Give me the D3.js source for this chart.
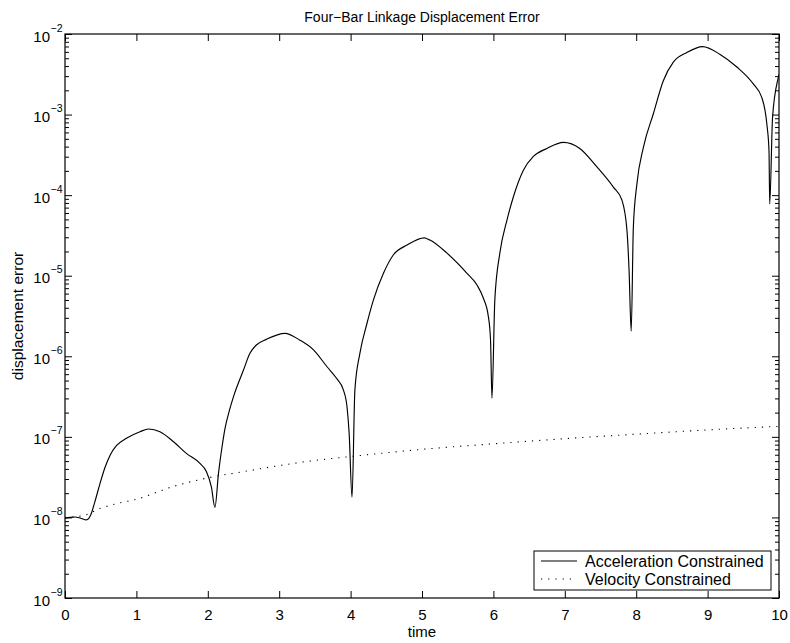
<!DOCTYPE html>
<html>
<head>
<meta charset="utf-8">
<script src="https://cdn.jsdelivr.net/npm/d3@7"></script>
<style>
  html, body { margin: 0; padding: 0; background: #fff; }
  svg { display: block; font-family: "Liberation Sans", Arial, Helvetica, sans-serif; }
</style>
</head>
<body>
<svg id="chart" width="790" height="643"></svg>
<script>
// ---- Data ----
const chartTitle = "Four\u2212Bar Linkage Displacement Error";
const xLabel = "time";
const yLabel = "displacement error";
const xTicks = [0, 1, 2, 3, 4, 5, 6, 7, 8, 9, 10];
const yTickExponents = [-9, -8, -7, -6, -5, -4, -3, -2];
const seriesNames = ["Acceleration Constrained", "Velocity Constrained"];

// Acceleration constrained: time and log10(error)
const accelTime = [
  0, 0.07, 0.14, 0.22, 0.30, 0.36, 0.42, 0.49, 0.56, 0.63, 0.72, 0.86, 1.05, 1.17, 1.33, 1.52, 1.70, 1.89, 1.98, 2.05, 2.10,
  2.15, 2.20, 2.24, 2.30, 2.36, 2.50, 2.59, 2.68, 2.82, 3.08, 3.29, 3.48, 3.67, 3.80, 3.90, 3.95, 3.98, 4.02,
  4.06, 4.13, 4.23, 4.32, 4.46, 4.60, 4.79, 5.03, 5.11, 5.35, 5.63, 5.77, 5.86, 5.93, 5.96, 5.98,
  6.02, 6.09, 6.19, 6.28, 6.42, 6.56, 6.75, 6.98, 7.21, 7.45, 7.68, 7.80, 7.87, 7.90, 7.93,
  7.96, 8.01, 8.10, 8.24, 8.38, 8.52, 8.71, 8.93, 9.17, 9.41, 9.64, 9.76, 9.83, 9.86, 9.87,
  9.91, 9.99, 10.0
];
const accelLog = [
  -8.01, -8.00, -7.995, -8.01, -8.03, -7.97, -7.80, -7.58, -7.38, -7.23, -7.11, -7.018, -6.936, -6.903, -6.936, -7.06, -7.205, -7.33, -7.43, -7.62, -7.875,
  -7.45, -7.12, -6.90, -6.68, -6.50, -6.17, -5.963, -5.86, -5.79, -5.715, -5.80, -5.92, -6.13, -6.27, -6.42, -6.63, -6.96, -7.75,
  -6.42, -5.963, -5.59, -5.30, -4.97, -4.74, -4.62, -4.53, -4.557, -4.72, -4.97, -5.115, -5.28, -5.51, -5.80, -6.52,
  -5.30, -4.72, -4.31, -4.02, -3.69, -3.52, -3.42, -3.345, -3.42, -3.65, -3.90, -4.06, -4.43, -4.93, -5.69,
  -4.40, -3.86, -3.41, -2.99, -2.58, -2.35, -2.23, -2.157, -2.25, -2.41, -2.62, -2.79, -3.12, -3.45, -4.11,
  -3.03, -2.54, -2.50
];

// Velocity constrained: time and error value
const velTime = [0, 0.25, 0.5, 0.75, 1, 1.5, 2, 2.5, 3, 3.5, 4, 5, 6, 7, 8, 9, 10];
const velValue = [1.0e-8, 1.05e-8, 1.3e-8, 1.5e-8, 1.68e-8, 2.4e-8, 3.1e-8, 3.7e-8, 4.4e-8, 5.1e-8, 5.7e-8, 7.0e-8, 8.2e-8, 9.5e-8, 1.08e-7, 1.22e-7, 1.35e-7];

// ---- Layout ----
const svg = d3.select("#chart");
const mLeft = 65, mRight = 779, mTop = 34, mBottom = 598;

const x = d3.scaleLinear().domain([0, 10]).range([mLeft, mRight]);
const y = d3.scaleLog().domain([1e-9, 1e-2]).range([mBottom, mTop]);

svg.append("rect").attr("x", 0).attr("y", 0).attr("width", 790).attr("height", 643).attr("fill", "#fff");

svg.append("defs").append("clipPath").attr("id", "clip")
  .append("rect").attr("x", mLeft).attr("y", mTop).attr("width", mRight - mLeft).attr("height", mBottom - mTop);

const g = svg.append("g");

const accelData = accelTime.map((t, i) => ({ t, v: Math.pow(10, accelLog[i]) }));
const velData = velTime.map((t, i) => ({ t, v: velValue[i] }));

const line = d3.line().x(d => x(d.t)).y(d => y(d.v)).curve(d3.curveMonotoneX);

g.append("path").datum(velData)
  .attr("d", line).attr("fill", "none").attr("stroke", "#000")
  .attr("stroke-width", 1.1).attr("stroke-dasharray", "1.2 6")
  .attr("clip-path", "url(#clip)");

g.append("path").datum(accelData)
  .attr("d", line).attr("fill", "none").attr("stroke", "#000")
  .attr("stroke-width", 1.15).attr("stroke-linejoin", "round")
  .attr("clip-path", "url(#clip)");

// Axes (ticks inside)
const axB = d3.axisBottom(x).tickValues(xTicks).tickSize(-7).tickFormat(d3.format("d")).tickPadding(11);
const axT = d3.axisTop(x).tickValues(xTicks).tickSize(-7).tickFormat("");
const gB = svg.append("g").attr("transform", `translate(0,${mBottom})`).call(axB);
const gT = svg.append("g").attr("transform", `translate(0,${mTop})`).call(axT);

const majorY = yTickExponents.map(e => Math.pow(10, e));
const minorY = [];
yTickExponents.slice(0, -1).forEach(e => { for (let k = 2; k <= 9; k++) minorY.push(k * Math.pow(10, e)); });

const axL = d3.axisLeft(y).tickValues(majorY).tickSize(-7).tickFormat("");
const axR = d3.axisRight(y).tickValues(majorY).tickSize(-7).tickFormat("");
const axLm = d3.axisLeft(y).tickValues(minorY).tickSize(-4).tickFormat("");
const axRm = d3.axisRight(y).tickValues(minorY).tickSize(-4).tickFormat("");
const gL = svg.append("g").attr("transform", `translate(${mLeft},0)`).call(axL);
const gR = svg.append("g").attr("transform", `translate(${mRight},0)`).call(axR);
const gLm = svg.append("g").attr("transform", `translate(${mLeft},0)`).call(axLm);
const gRm = svg.append("g").attr("transform", `translate(${mRight},0)`).call(axRm);

[gB, gT, gL, gR, gLm, gRm].forEach(a => {
  a.select(".domain").remove();
  a.selectAll(".tick line").attr("stroke", "#000").attr("stroke-width", 1);
});
gB.selectAll(".tick text").attr("font-size", 15).attr("fill", "#000")
  .attr("font-family", "Liberation Sans, Arial, sans-serif");

// Frame
svg.append("rect").attr("x", mLeft).attr("y", mTop).attr("width", mRight - mLeft).attr("height", mBottom - mTop)
  .attr("fill", "none").attr("stroke", "#000").attr("stroke-width", 1.2);

// Y tick labels 10^k
const yLab = svg.append("g");
yTickExponents.forEach(e => {
  const yy = y(Math.pow(10, e));
  yLab.append("text").attr("x", 50).attr("y", yy + 7.5)
    .attr("text-anchor", "end").attr("font-size", 15).attr("fill", "#000").text("10");
  yLab.append("text").attr("x", 50.5).attr("y", yy - 2.5)
    .attr("text-anchor", "start").attr("font-size", 10.5).attr("fill", "#000").text("\u2212" + Math.abs(e));
});

// Title and axis labels
svg.append("text").attr("x", (mLeft + mRight) / 2).attr("y", 22).attr("text-anchor", "middle")
  .attr("font-size", 14).attr("fill", "#000").text(chartTitle);
svg.append("text").attr("x", (mLeft + mRight) / 2).attr("y", 637).attr("text-anchor", "middle")
  .attr("font-size", 15).attr("fill", "#000").text(xLabel);
svg.append("text").attr("transform", `translate(23,${(mTop + mBottom) / 2}) rotate(-90)`)
  .attr("text-anchor", "middle").attr("font-size", 15.5).attr("fill", "#000").text(yLabel);

// Legend
const lg = svg.append("g");
lg.append("rect").attr("x", 534).attr("y", 551).attr("width", 237).attr("height", 39)
  .attr("fill", "#fff").attr("stroke", "#000").attr("stroke-width", 1);
const legendRows = [
  { name: seriesNames[0], y: 561, dash: null },
  { name: seriesNames[1], y: 579, dash: "1.2 6" }
];
legendRows.forEach(r => {
  const l = lg.append("line").attr("x1", 541).attr("x2", 577).attr("y1", r.y).attr("y2", r.y)
    .attr("stroke", "#000").attr("stroke-width", 1.1);
  if (r.dash) l.attr("stroke-dasharray", r.dash);
  lg.append("text").attr("x", 585).attr("y", r.y + 6).attr("font-size", 16).attr("fill", "#000").text(r.name);
});
</script>
</body>
</html>
